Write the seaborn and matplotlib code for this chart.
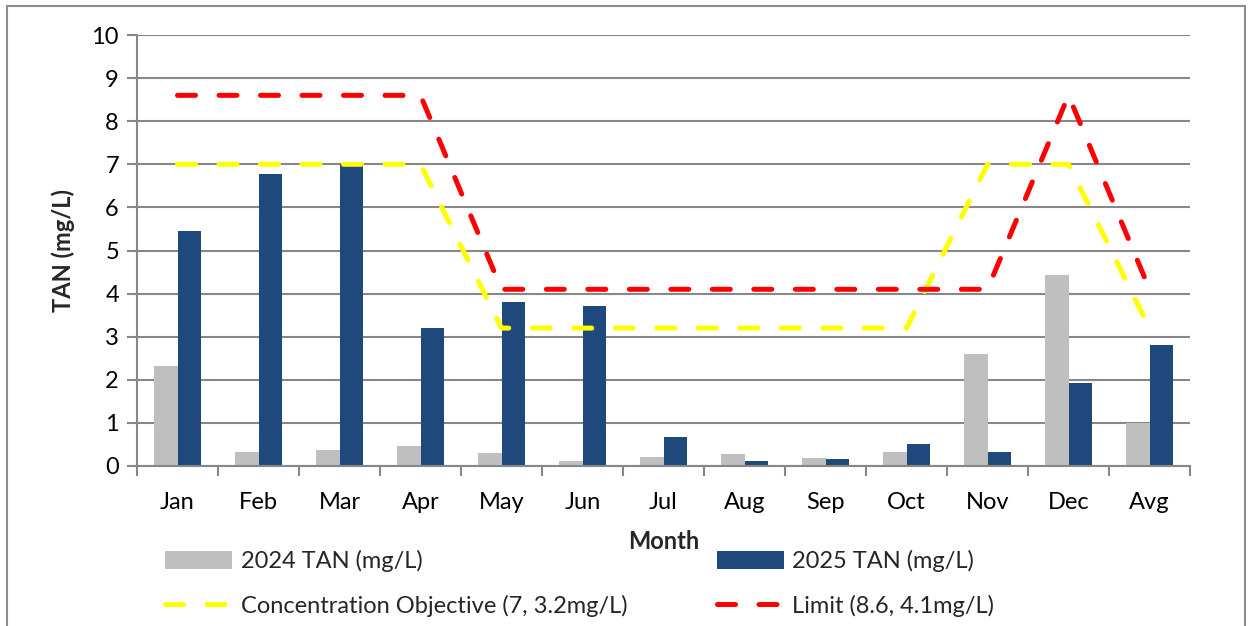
import numpy as np
import pandas as pd
import matplotlib
matplotlib.use("Agg")
import matplotlib.pyplot as plt
from matplotlib.patches import Rectangle, Patch
from matplotlib.lines import Line2D
import seaborn as sns

months = ["Jan", "Feb", "Mar", "Apr", "May", "Jun", "Jul", "Aug", "Sep", "Oct", "Nov", "Dec", "Avg"]
tan_2024 = [2.33, 0.33, 0.37, 0.47, 0.30, 0.12, 0.21, 0.28, 0.19, 0.33, 2.60, 4.43, 1.00]
tan_2025 = [5.45, 6.77, 7.00, 3.20, 3.80, 3.72, 0.67, 0.12, 0.17, 0.52, 0.32, 1.93, 2.80]
objective = [7, 7, 7, 7, 3.2, 3.2, 3.2, 3.2, 3.2, 3.2, 7, 7, 3.2]
limit = [8.6, 8.6, 8.6, 8.6, 4.1, 4.1, 4.1, 4.1, 4.1, 4.1, 4.1, 8.6, 4.1]
series_names = ["2024 TAN (mg/L)", "2025 TAN (mg/L)"]
line_names = ["Concentration Objective (7, 3.2mg/L)", "Limit (8.6, 4.1mg/L)"]

sns.set_theme(style="white")
plt.rcParams["font.family"] = ["Lato", "DejaVu Sans"]

FS = 17
GRID = "#878787"
GRAY = "#BFBFBF"
BLUE = "#1F497D"
LW = 3.6
DASH = [3.6, 4.7]

df = pd.DataFrame({
    "Month": months * 2,
    "TAN": tan_2024 + tan_2025,
    "Series": [series_names[0]] * len(months) + [series_names[1]] * len(months),
})

fig = plt.figure(figsize=(12.5, 6.26), dpi=100)
ax = fig.add_axes([137 / 1250, 1 - 466 / 626, (1190 - 137) / 1250, (466 - 35) / 626])

sns.barplot(data=df, x="Month", y="TAN", hue="Series", order=months,
            hue_order=series_names, palette=[GRAY, BLUE], width=0.57,
            saturation=1, ax=ax, legend=False, zorder=2)
for p in ax.patches:
    p.set_edgecolor("none")

pos = np.arange(len(months))
sns.lineplot(x=pos, y=objective, color="#FFFF00", linewidth=LW, ax=ax, zorder=4)
sns.lineplot(x=pos, y=limit, color="#FF0000", linewidth=LW, ax=ax, zorder=5)
for ln in ax.lines:
    ln.set_dashes(DASH)
    ln.set_dash_capstyle("round")
    ln.set_dash_joinstyle("round")

ax.set_xlim(-0.5, len(months) - 0.5)
ax.set_ylim(0, 10)
ax.set_yticks(range(0, 11))
ax.yaxis.grid(True, color=GRID, linewidth=1.5, zorder=0)
ax.set_axisbelow(True)
ax.xaxis.grid(False)
ax.set_xticks(pos)
ax.set_xticklabels(months)
ax.set_xticks(np.arange(-0.5, len(months)), minor=True)
ax.tick_params(axis="x", which="major", length=0, pad=18.5, labelsize=FS, colors="black")
ax.tick_params(axis="x", which="minor", length=7, width=1.5, color=GRID, direction="out", bottom=True)
ax.tick_params(axis="y", which="major", length=7, width=1.5, color=GRID, direction="out",
               left=True, labelsize=FS, labelcolor="black", pad=6)
for s in ["top", "right"]:
    ax.spines[s].set_visible(False)
for s in ["left", "bottom"]:
    ax.spines[s].set_color(GRID)
    ax.spines[s].set_linewidth(1.5)

ax.set_ylabel("TAN (mg/L)", fontsize=FS, fontweight="bold", labelpad=12)
ax.set_xlabel("Month", fontsize=FS, fontweight="bold", labelpad=12.5)

handles = [
    Patch(facecolor=GRAY, edgecolor="none"),
    Line2D([], [], color="#FFFF00", linewidth=LW, dashes=DASH, dash_capstyle="round"),
    Patch(facecolor=BLUE, edgecolor="none"),
    Line2D([], [], color="#FF0000", linewidth=LW, dashes=DASH, dash_capstyle="round"),
]
labels = [series_names[0], line_names[0], series_names[1], line_names[1]]
fig.legend(handles, labels, ncol=2, loc="upper left",
           bbox_to_anchor=(165 / 1250, 1 - 550 / 626), frameon=False,
           fontsize=FS, handlelength=2.85, handleheight=0.75, handletextpad=0.35,
           labelspacing=0.95, columnspacing=3.8, borderaxespad=0, borderpad=0)

fig.patches.append(Rectangle((7 / 1250, -0.1), (1245 - 7) / 1250, 1.1 - 6 / 626,
                             transform=fig.transFigure, fill=False,
                             edgecolor="#8C8C8C", linewidth=1.5, zorder=-1))

fig.savefig("out.png", dpi=100, facecolor="white")
